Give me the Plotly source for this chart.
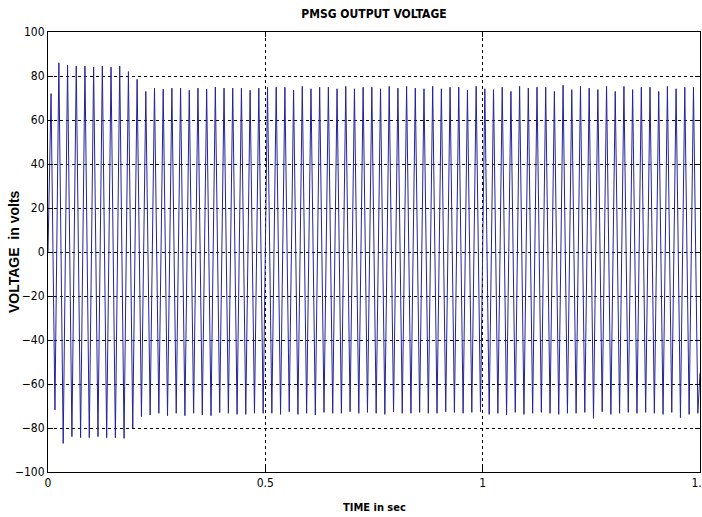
import plotly.graph_objects as go

# Extremum times (s) and values (V), cycle by cycle (50 Hz)
peak_times = [0.007, 0.025, 0.045, 0.065, 0.085, 0.105, 0.125, 0.145, 0.165, 0.185,
              0.205, 0.225, 0.245, 0.265, 0.285, 0.305, 0.325, 0.345, 0.365, 0.385,
              0.405, 0.425, 0.445, 0.465, 0.485, 0.505, 0.525, 0.545, 0.565, 0.585,
              0.605, 0.625, 0.645, 0.665, 0.685, 0.705, 0.725, 0.745, 0.765, 0.785,
              0.805, 0.825, 0.845, 0.865, 0.885, 0.905, 0.925, 0.945, 0.965, 0.985,
              1.005, 1.025, 1.045, 1.065, 1.085, 1.105, 1.125, 1.145, 1.165, 1.185,
              1.205, 1.225, 1.245, 1.265, 1.285, 1.305, 1.325, 1.345, 1.365, 1.385,
              1.405, 1.425, 1.445, 1.465, 1.485]
peak_values = [72.0, 86.0, 85.0, 84.5, 84.5, 84.0, 84.5, 84.0, 84.5, 82.0,
               78.5, 73.0, 74.5, 74.0, 74.5, 74.5, 73.5, 74.5, 74.0, 75.0,
               74.5, 74.5, 74.5, 73.5, 74.5, 74.9, 74.9, 74.9, 73.5, 75.3,
               74.2, 74.9, 74.9, 74.2, 75.3, 74.2, 74.9, 74.9, 74.2, 75.3,
               74.5, 75.3, 74.5, 74.2, 75.3, 74.2, 74.9, 74.9, 73.5, 75.3,
               74.2, 73.8, 74.9, 73.0, 75.3, 74.5, 74.9, 74.9, 73.0, 75.8,
               73.8, 75.3, 74.5, 73.8, 75.3, 73.0, 75.3, 73.8, 74.9, 74.9,
               73.0, 75.3, 74.2, 74.9, 74.9]
trough_times = [0.016, 0.035, 0.055, 0.075, 0.095, 0.115, 0.135, 0.155, 0.175, 0.195,
                0.215, 0.235, 0.255, 0.275, 0.295, 0.315, 0.335, 0.355, 0.375, 0.395,
                0.415, 0.435, 0.455, 0.475, 0.495, 0.515, 0.535, 0.555, 0.575, 0.595,
                0.615, 0.635, 0.655, 0.675, 0.695, 0.715, 0.735, 0.755, 0.775, 0.795,
                0.815, 0.835, 0.855, 0.875, 0.895, 0.915, 0.935, 0.955, 0.975, 0.995,
                1.015, 1.035, 1.055, 1.075, 1.095, 1.115, 1.135, 1.155, 1.175, 1.195,
                1.215, 1.235, 1.255, 1.275, 1.295, 1.315, 1.335, 1.355, 1.375, 1.395,
                1.415, 1.435, 1.455, 1.475, 1.495]
trough_values = [-71.8, -87.0, -83.9, -84.4, -84.4, -83.9, -84.4, -84.4, -84.7, -80.2,
                 -74.8, -74.1, -73.3, -74.4, -73.3, -74.4, -73.3, -74.1, -74.4, -73.0,
                 -73.3, -73.8, -73.8, -73.3, -73.3, -73.3, -73.8, -72.6, -73.8, -73.3,
                 -74.1, -72.9, -73.3, -73.3, -72.6, -73.3, -72.9, -73.3, -73.8, -72.6,
                 -73.3, -73.3, -72.9, -73.3, -73.3, -72.6, -72.9, -73.3, -72.9, -72.6,
                 -73.8, -73.3, -74.1, -72.9, -73.8, -73.3, -72.9, -73.3, -73.8, -73.3,
                 -73.3, -72.9, -75.6, -72.6, -73.8, -73.3, -72.9, -73.3, -72.9, -73.3,
                 -73.8, -72.9, -75.3, -73.8, -73.3]
start_point = (0.0, 0.0)
end_point = (1.5, -55.0)

x_ticks = [0, 0.5, 1, 1.5]
x_tick_labels = ["0", "0.5", "1", "1.5"]
y_ticks = [-100, -80, -60, -40, -20, 0, 20, 40, 60, 80, 100]

# interleave peaks and troughs into one waveform
t = [start_point[0]]
v = [start_point[1]]
for pt, pv, tt, tv in zip(peak_times, peak_values, trough_times, trough_values):
    t += [pt, tt]
    v += [pv, tv]
t.append(end_point[0])
v.append(end_point[1])

narrow = "DejaVu Sans Condensed, Liberation Sans Narrow, Arial Narrow, Liberation Sans, Arial, sans-serif"

fig = go.Figure()
fig.add_trace(go.Scatter(x=t, y=v, mode="lines",
                         line=dict(color="rgb(35,35,155)", width=1),
                         showlegend=False, hoverinfo="skip"))

axis_common = dict(showline=True, linecolor="black", linewidth=1, mirror="ticks",
                   ticks="inside", ticklen=5, tickcolor="black",
                   showgrid=True, gridcolor="black", griddash="dot", gridwidth=1,
                   zeroline=False, ticklabeloverflow="allow", automargin=False,
                   tickfont=dict(family=narrow, size=12, color="black"))

fig.update_xaxes(range=[0, 1.5], tickvals=x_ticks, ticktext=x_tick_labels, **axis_common)
fig.update_yaxes(range=[-100, 100], tickvals=y_ticks, **axis_common)

fig.update_layout(
    width=702, height=517,
    margin=dict(l=48, r=2, t=32, b=45),
    paper_bgcolor="white", plot_bgcolor="white",
    title=dict(text="<b>PMSG OUTPUT VOLTAGE</b>", x=(374 / 702), xanchor="center",
               y=1 - 14 / 517, yanchor="middle", yref="container",
               font=dict(family=narrow, size=12, color="black")),
    annotations=[
        dict(text="<b>VOLTAGE  in volts</b>", xref="paper", yref="paper",
             x=-34 / 652, y=0.5, xanchor="center", yanchor="middle", textangle=-90,
             showarrow=False, font=dict(family="Liberation Sans, Arial, sans-serif", size=14, color="black")),
        dict(text="<b>TIME in sec</b>", xref="paper", yref="paper",
             x=0.5, y=-35 / 440, xanchor="center", yanchor="middle",
             showarrow=False, font=dict(family=narrow, size=11, color="black")),
    ],
)

fig.write_html("out.html", config={"displayModeBar": False},
               post_script="document.body.style.margin='0';document.body.style.overflow='hidden';")
